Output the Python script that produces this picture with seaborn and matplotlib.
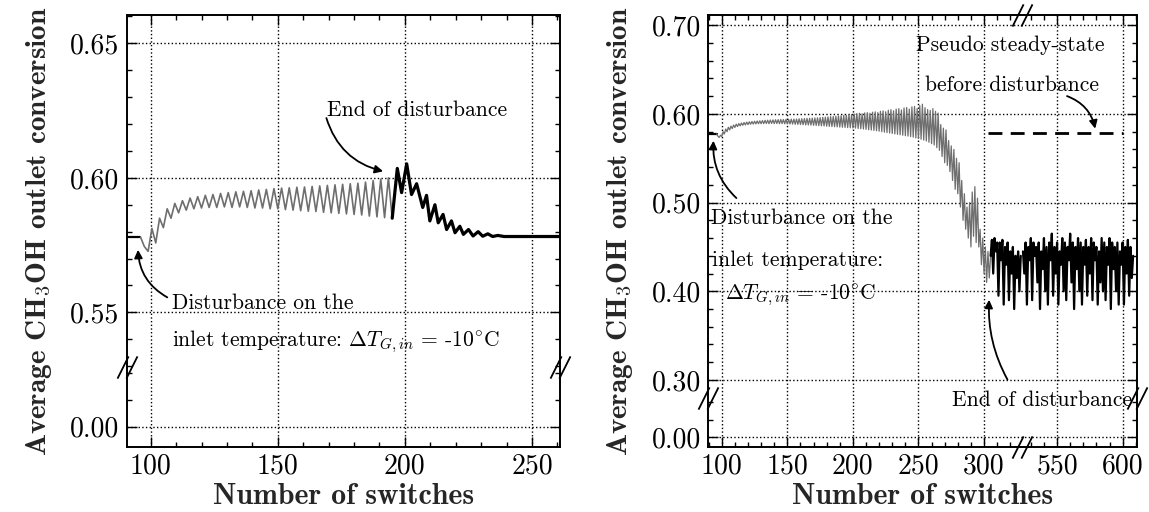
import numpy as np
import pandas as pd
import matplotlib
matplotlib.use("Agg")
import matplotlib.pyplot as plt
import matplotlib.transforms as mtransforms
from matplotlib.path import Path
from matplotlib.ticker import FixedLocator, FormatStrFormatter
import seaborn as sns

# ---------------- left panel ----------------
left_pre_x = [90.5, 96.0]
left_pre_y = [0.5782, 0.5782]
# grey part: one extremum every 1.5 switches, starting at switch 96
left_dist_start = 96.0
left_dist_step = 1.5
left_dist_y = [
    0.5780, 0.5745, 0.5727, 0.5812, 0.5758, 0.5850, 0.5815, 0.5885, 0.5850, 0.5905,
    0.5870, 0.5915, 0.5880, 0.5925, 0.5885, 0.5930, 0.5888, 0.5935, 0.5890, 0.5938,
    0.5890, 0.5942, 0.5892, 0.5945, 0.5890, 0.5948, 0.5892, 0.5950, 0.5890, 0.5952,
    0.5888, 0.5955, 0.5888, 0.5957, 0.5885, 0.5960, 0.5885, 0.5962, 0.5882, 0.5963,
    0.5880, 0.5965, 0.5878, 0.5966, 0.5876, 0.5968, 0.5875, 0.5970, 0.5872, 0.5972,
    0.5870, 0.5974, 0.5868, 0.5976, 0.5866, 0.5978, 0.5864, 0.5980, 0.5862, 0.5984,
    0.5858, 0.5990, 0.5855, 0.5995, 0.5852, 0.6000, 0.5850,
]
left_post_x = [195.0, 197.0, 198.7, 200.7, 202.6, 204.6, 207.0, 208.5, 209.8, 211.8,
               213.1, 215.0, 216.4, 218.3, 219.7, 221.6, 223.0, 225.0, 226.8, 228.8,
               230.6, 232.6, 234.5, 236.5, 239.0, 261.0]
left_post_y = [0.5850, 0.6035, 0.5945, 0.6052, 0.5938, 0.5978, 0.5890, 0.5935, 0.5840, 0.5900,
               0.5833, 0.5864, 0.5808, 0.5840, 0.5796, 0.5820, 0.5790, 0.5808, 0.5784, 0.5800,
               0.5783, 0.5792, 0.5782, 0.5786, 0.5782, 0.5782]

# ---------------- right panel ----------------
right_pre_x = [89.5, 96.0]
right_pre_y = [0.5775, 0.5775]
right_dist_start = 96   # one value per switch, 96..305
right_dist_y = [
    0.5775, 0.5750, 0.5735, 0.5760, 0.5745, 0.5800, 0.5775, 0.5830, 0.5800, 0.5850,
    0.5820, 0.5862, 0.5835, 0.5875, 0.5848, 0.5885, 0.5858, 0.5892, 0.5866, 0.5898,
    0.5872, 0.5903, 0.5876, 0.5908, 0.5880, 0.5912, 0.5884, 0.5915, 0.5886, 0.5918,
    0.5888, 0.5921, 0.5889, 0.5923, 0.5890, 0.5925, 0.5891, 0.5928, 0.5892, 0.5930,
    0.5890, 0.5932, 0.5893, 0.5933, 0.5891, 0.5935, 0.5892, 0.5936, 0.5890, 0.5938,
    0.5891, 0.5937, 0.5889, 0.5939, 0.5888, 0.5940, 0.5887, 0.5941, 0.5886, 0.5942,
    0.5884, 0.5943, 0.5883, 0.5945, 0.5881, 0.5946, 0.5879, 0.5948, 0.5877, 0.5950,
    0.5876, 0.5951, 0.5874, 0.5953, 0.5872, 0.5955, 0.5870, 0.5957, 0.5868, 0.5959,
    0.5866, 0.5962, 0.5865, 0.5964, 0.5862, 0.5967, 0.5860, 0.5970, 0.5858, 0.5972,
    0.5856, 0.5975, 0.5854, 0.5978, 0.5852, 0.5980, 0.5850, 0.5983, 0.5848, 0.5986,
    0.5846, 0.5990, 0.5844, 0.5995, 0.5842, 0.6000, 0.5840, 0.6004, 0.5836, 0.6008,
    0.5833, 0.6002, 0.5830, 0.6012, 0.5826, 0.6015, 0.5822, 0.6008, 0.5818, 0.6020,
    0.5814, 0.6024, 0.5810, 0.6015, 0.5806, 0.6030, 0.5800, 0.6035, 0.5795, 0.6025,
    0.5790, 0.6042, 0.5785, 0.6048, 0.5780, 0.6035, 0.5775, 0.6055, 0.5770, 0.6060,
    0.5765, 0.6045, 0.5760, 0.6068, 0.5755, 0.6072, 0.5750, 0.6055, 0.5745, 0.6080,
    0.5738, 0.6085, 0.5730, 0.6060, 0.5722, 0.6095, 0.5715, 0.6110, 0.5705, 0.6070,
    0.5695, 0.6050, 0.5680, 0.6040, 0.5665, 0.6060, 0.5650, 0.6030, 0.5620, 0.6010,
    0.5590, 0.5880, 0.5520, 0.5840, 0.5450, 0.5820, 0.5420, 0.5700, 0.5350, 0.5640,
    0.5250, 0.5600, 0.5150, 0.5500, 0.5100, 0.5450, 0.4950, 0.5250, 0.4800, 0.5100,
    0.4700, 0.4950, 0.4600, 0.5000, 0.4500, 0.5120, 0.4620, 0.5180, 0.4550, 0.5050,
    0.4500, 0.4700, 0.4300, 0.4600, 0.4200, 0.4500, 0.4100, 0.4450, 0.4150, 0.4400,
]
right_post1_start = 305  # 305..328
right_post1_y = [
    0.4400, 0.4580, 0.4200, 0.4600, 0.4450, 0.4550, 0.3950, 0.4550, 0.4350, 0.4580,
    0.3850, 0.4500, 0.4300, 0.4550, 0.3900, 0.4450, 0.4200, 0.4500, 0.3800, 0.4400,
    0.4150, 0.4450, 0.4000, 0.4400,
]
right_post2_start = 524  # 524..608
right_post2_y = [
    0.4450, 0.4200, 0.4550, 0.3850, 0.4500, 0.4350, 0.4600, 0.3900, 0.4550, 0.4400,
    0.4500, 0.4100, 0.4550, 0.3800, 0.4450, 0.4250, 0.4600, 0.4000, 0.4500, 0.3850,
    0.4550, 0.4350, 0.4650, 0.3950, 0.4500, 0.4200, 0.4550, 0.3850, 0.4450, 0.4300,
    0.4600, 0.4000, 0.4550, 0.3900, 0.4500, 0.4350, 0.4650, 0.4100, 0.4550, 0.3800,
    0.4500, 0.4250, 0.4600, 0.4000, 0.4550, 0.3850, 0.4500, 0.4300, 0.4580, 0.3950,
    0.4500, 0.4200, 0.4600, 0.3900, 0.4550, 0.4350, 0.4500, 0.3850, 0.4450, 0.4100,
    0.4600, 0.4000, 0.4550, 0.3900, 0.4500, 0.4300, 0.4600, 0.3800, 0.4550, 0.4250,
    0.4500, 0.4000, 0.4550, 0.3850, 0.4450, 0.4300, 0.4550, 0.3850, 0.4500, 0.4200,
    0.4580, 0.3950, 0.4500, 0.4150, 0.4400,
]
steady_x = [303, 600]
steady_y = [0.578, 0.578]


def frame(x, y):
    return pd.DataFrame({"switches": np.asarray(x, float), "conversion": y})


def steps(start, step, values):
    return start + step * np.arange(len(values))


GREY = "#6e6e6e"

sns.set_style("ticks")
plt.rcParams["font.family"] = ["cmr10", "DejaVu Serif"]
plt.rcParams["mathtext.fontset"] = "cm"
plt.rcParams["axes.unicode_minus"] = False
plt.rcParams["axes.edgecolor"] = "black"
plt.rcParams["xtick.color"] = "black"
plt.rcParams["ytick.color"] = "black"

fig = plt.figure(figsize=(11.49, 5.12), dpi=100)
ax1 = fig.add_axes([0.1101, 0.1275, 0.3773, 0.8432])
ax2 = fig.add_axes([0.6162, 0.1275, 0.3734, 0.8432])


# broken-axis helpers (the gap is squeezed out of the scale)
def y_break(lo_top, hi_bottom):
    shift = hi_bottom - lo_top
    cut = 0.5 * (lo_top + hi_bottom)
    def fwd(v):
        v = np.asarray(v, float)
        return np.where(v > cut, v, v + shift)
    def inv(u):
        u = np.asarray(u, float)
        return np.where(u > hi_bottom, u, u - shift)
    return fwd, inv


def x_break(lo_right, hi_left):
    shift = hi_left - lo_right
    cut = 0.5 * (lo_right + hi_left)
    def fwd(v):
        v = np.asarray(v, float)
        return np.where(v < cut, v, v - shift)
    def inv(u):
        u = np.asarray(u, float)
        return np.where(u < lo_right, u, u + shift)
    return fwd, inv


brk = Path([(-0.9, -1.0), (0.1, 1.0), (-0.1, -1.0), (0.9, 1.0)],
           [Path.MOVETO, Path.LINETO, Path.MOVETO, Path.LINETO])


def mark_ybreak(ax, yb):
    tr = mtransforms.blended_transform_factory(ax.transAxes, ax.transData)
    ax.plot([0, 1], [yb, yb], transform=tr, marker=brk, ms=16, mew=1.3,
            ls="none", color="k", mfc="none", clip_on=False, zorder=5)


def mark_xbreak(ax, xb):
    tr = mtransforms.blended_transform_factory(ax.transData, ax.transAxes)
    ax.plot([xb, xb], [0, 1], transform=tr, marker=brk, ms=16, mew=1.3,
            ls="none", color="k", mfc="none", clip_on=False, zorder=5)


def style(ax):
    ax.tick_params(which="both", direction="in", top=True, right=True, width=1.0)
    ax.tick_params(which="major", length=7, labelsize=20, pad=5)
    ax.tick_params(which="minor", length=3.5)
    ax.grid(True, which="major", ls=":", lw=1.0, color="k")
    for s in ax.spines.values():
        s.set_linewidth(1.4)
    ax.yaxis.set_major_formatter(FormatStrFormatter("%.2f"))
    ax.xaxis.set_major_formatter(FormatStrFormatter("%d"))
    ax.set_xlabel("Number of switches", family=["cmb10", "DejaVu Serif"],
                  fontsize=21.5, labelpad=2)
    ax.set_ylabel("Average CH$_3$OH outlet conversion",
                  family=["cmb10", "DejaVu Serif"], fontsize=21, labelpad=12)


txt = dict(fontsize=15.5, color="k")
arrow = dict(arrowstyle="-|>", lw=1.3, color="k", mutation_scale=12)
dT = r"$\Delta T_{G,in}$ = -10$^{\circ}$C"

# ---------------- left panel ----------------
sns.lineplot(data=frame(left_pre_x, left_pre_y), x="switches", y="conversion",
             ax=ax1, color="k", lw=1.6, estimator=None, sort=False)
sns.lineplot(data=frame(steps(left_dist_start, left_dist_step, left_dist_y), left_dist_y),
             x="switches", y="conversion", ax=ax1, color=GREY, lw=1.2,
             estimator=None, sort=False)
sns.lineplot(data=frame(left_post_x, left_post_y), x="switches", y="conversion",
             ax=ax1, color="k", lw=2.3, estimator=None, sort=False)

ax1.set_yscale("function", functions=y_break(0.0223, 0.5298))
ax1.set_xlim(90.5, 261)
ax1.set_ylim(-0.0074, 0.6605)
ax1.yaxis.set_major_locator(FixedLocator([0.0, 0.55, 0.60, 0.65]))
ax1.yaxis.set_minor_locator(FixedLocator([0.01, 0.02] + [0.53, 0.54] +
                                         [0.56, 0.57, 0.58, 0.59] +
                                         [0.61, 0.62, 0.63, 0.64, 0.66]))
ax1.xaxis.set_major_locator(FixedLocator([100, 150, 200, 250]))
ax1.xaxis.set_minor_locator(FixedLocator([110, 120, 130, 140, 160, 170, 180, 190,
                                          210, 220, 230, 240, 260]))
style(ax1)
mark_ybreak(ax1, 0.5298)

ax1.text(169.5, 0.6252, "End of disturbance", ha="left", va="center", **txt)
ax1.annotate("", xy=(192.5, 0.6022), xytext=(168.8, 0.6232),
             arrowprops=dict(connectionstyle="arc3,rad=0.3", **arrow))
ax1.text(108.5, 0.5533, "Disturbance on the", ha="left", va="center", **txt)
ax1.text(108.5, 0.5391, "inlet temperature: " + dT, ha="left", va="center", **txt)
ax1.annotate("", xy=(95.0, 0.5743), xytext=(107.5, 0.5551),
             arrowprops=dict(connectionstyle="arc3,rad=-0.3", **arrow))

# ---------------- right panel ----------------
sns.lineplot(data=frame(right_pre_x, right_pre_y), x="switches", y="conversion",
             ax=ax2, color="k", lw=1.6, estimator=None, sort=False)
sns.lineplot(data=frame(steps(right_dist_start, 1, right_dist_y), right_dist_y),
             x="switches", y="conversion", ax=ax2, color=GREY, lw=0.9,
             estimator=None, sort=False)
sns.lineplot(data=frame(steps(right_post1_start, 1, right_post1_y), right_post1_y),
             x="switches", y="conversion", ax=ax2, color="k", lw=1.6,
             estimator=None, sort=False)
sns.lineplot(data=frame(steps(right_post2_start, 1, right_post2_y), right_post2_y),
             x="switches", y="conversion", ax=ax2, color="k", lw=1.6,
             estimator=None, sort=False)
sns.lineplot(data=frame(steady_x, steady_y), x="switches", y="conversion",
             ax=ax2, color="k", lw=2.0, estimator=None, sort=False)
ax2.get_lines()[-1].set_dashes((5, 3))

ax2.set_yscale("function", functions=y_break(0.0446, 0.2797))
ax2.set_xscale("function", functions=x_break(328.6, 522.9))
ax2.set_xlim(89.5, 611)
ax2.set_ylim(-0.0104, 0.7116)
ax2.yaxis.set_major_locator(FixedLocator([0.0, 0.3, 0.4, 0.5, 0.6, 0.7]))
ax2.yaxis.set_minor_locator(FixedLocator([0.02, 0.04] +
                                         [0.32, 0.34, 0.36, 0.38, 0.42, 0.44, 0.46, 0.48,
                                          0.52, 0.54, 0.56, 0.58, 0.62, 0.64, 0.66, 0.68]))
ax2.xaxis.set_major_locator(FixedLocator([100, 150, 200, 250, 300, 550, 600]))
ax2.xaxis.set_minor_locator(FixedLocator([90, 110, 120, 130, 140, 160, 170, 180, 190,
                                          210, 220, 230, 240, 260, 270, 280, 290,
                                          310, 320, 530, 540, 560, 570, 580, 590, 610]))
style(ax2)
mark_ybreak(ax2, 0.2797)
mark_xbreak(ax2, 328.6)

ax2.text(319.9, 0.6777, "Pseudo steady-state", ha="center", va="center", **txt)
ax2.text(321.4, 0.6325, "before disturbance", ha="center", va="center", **txt)
ax2.annotate("", xy=(579.5, 0.5803), xytext=(555.6, 0.6212),
             arrowprops=dict(connectionstyle="arc3,rad=-0.3", **arrow))
ax2.text(91.5, 0.4824, "Disturbance on the", ha="left", va="center", **txt)
ax2.text(92.6, 0.4350, "inlet temperature:", ha="left", va="center", **txt)
ax2.text(102.8, 0.3955, dT, ha="left", va="center", **txt)
ax2.annotate("", xy=(93.8, 0.5729), xytext=(112.7, 0.5030),
             arrowprops=dict(connectionstyle="arc3,rad=-0.25", **arrow))
ax2.text(538.4, 0.042, "End of disturbance", ha="center", va="center", **txt)
ax2.annotate("", xy=(304.0, 0.3936), xytext=(318.9, 0.2977),
             arrowprops=dict(connectionstyle="arc3,rad=-0.15", **arrow))

plt.savefig("out.png", dpi=100)
